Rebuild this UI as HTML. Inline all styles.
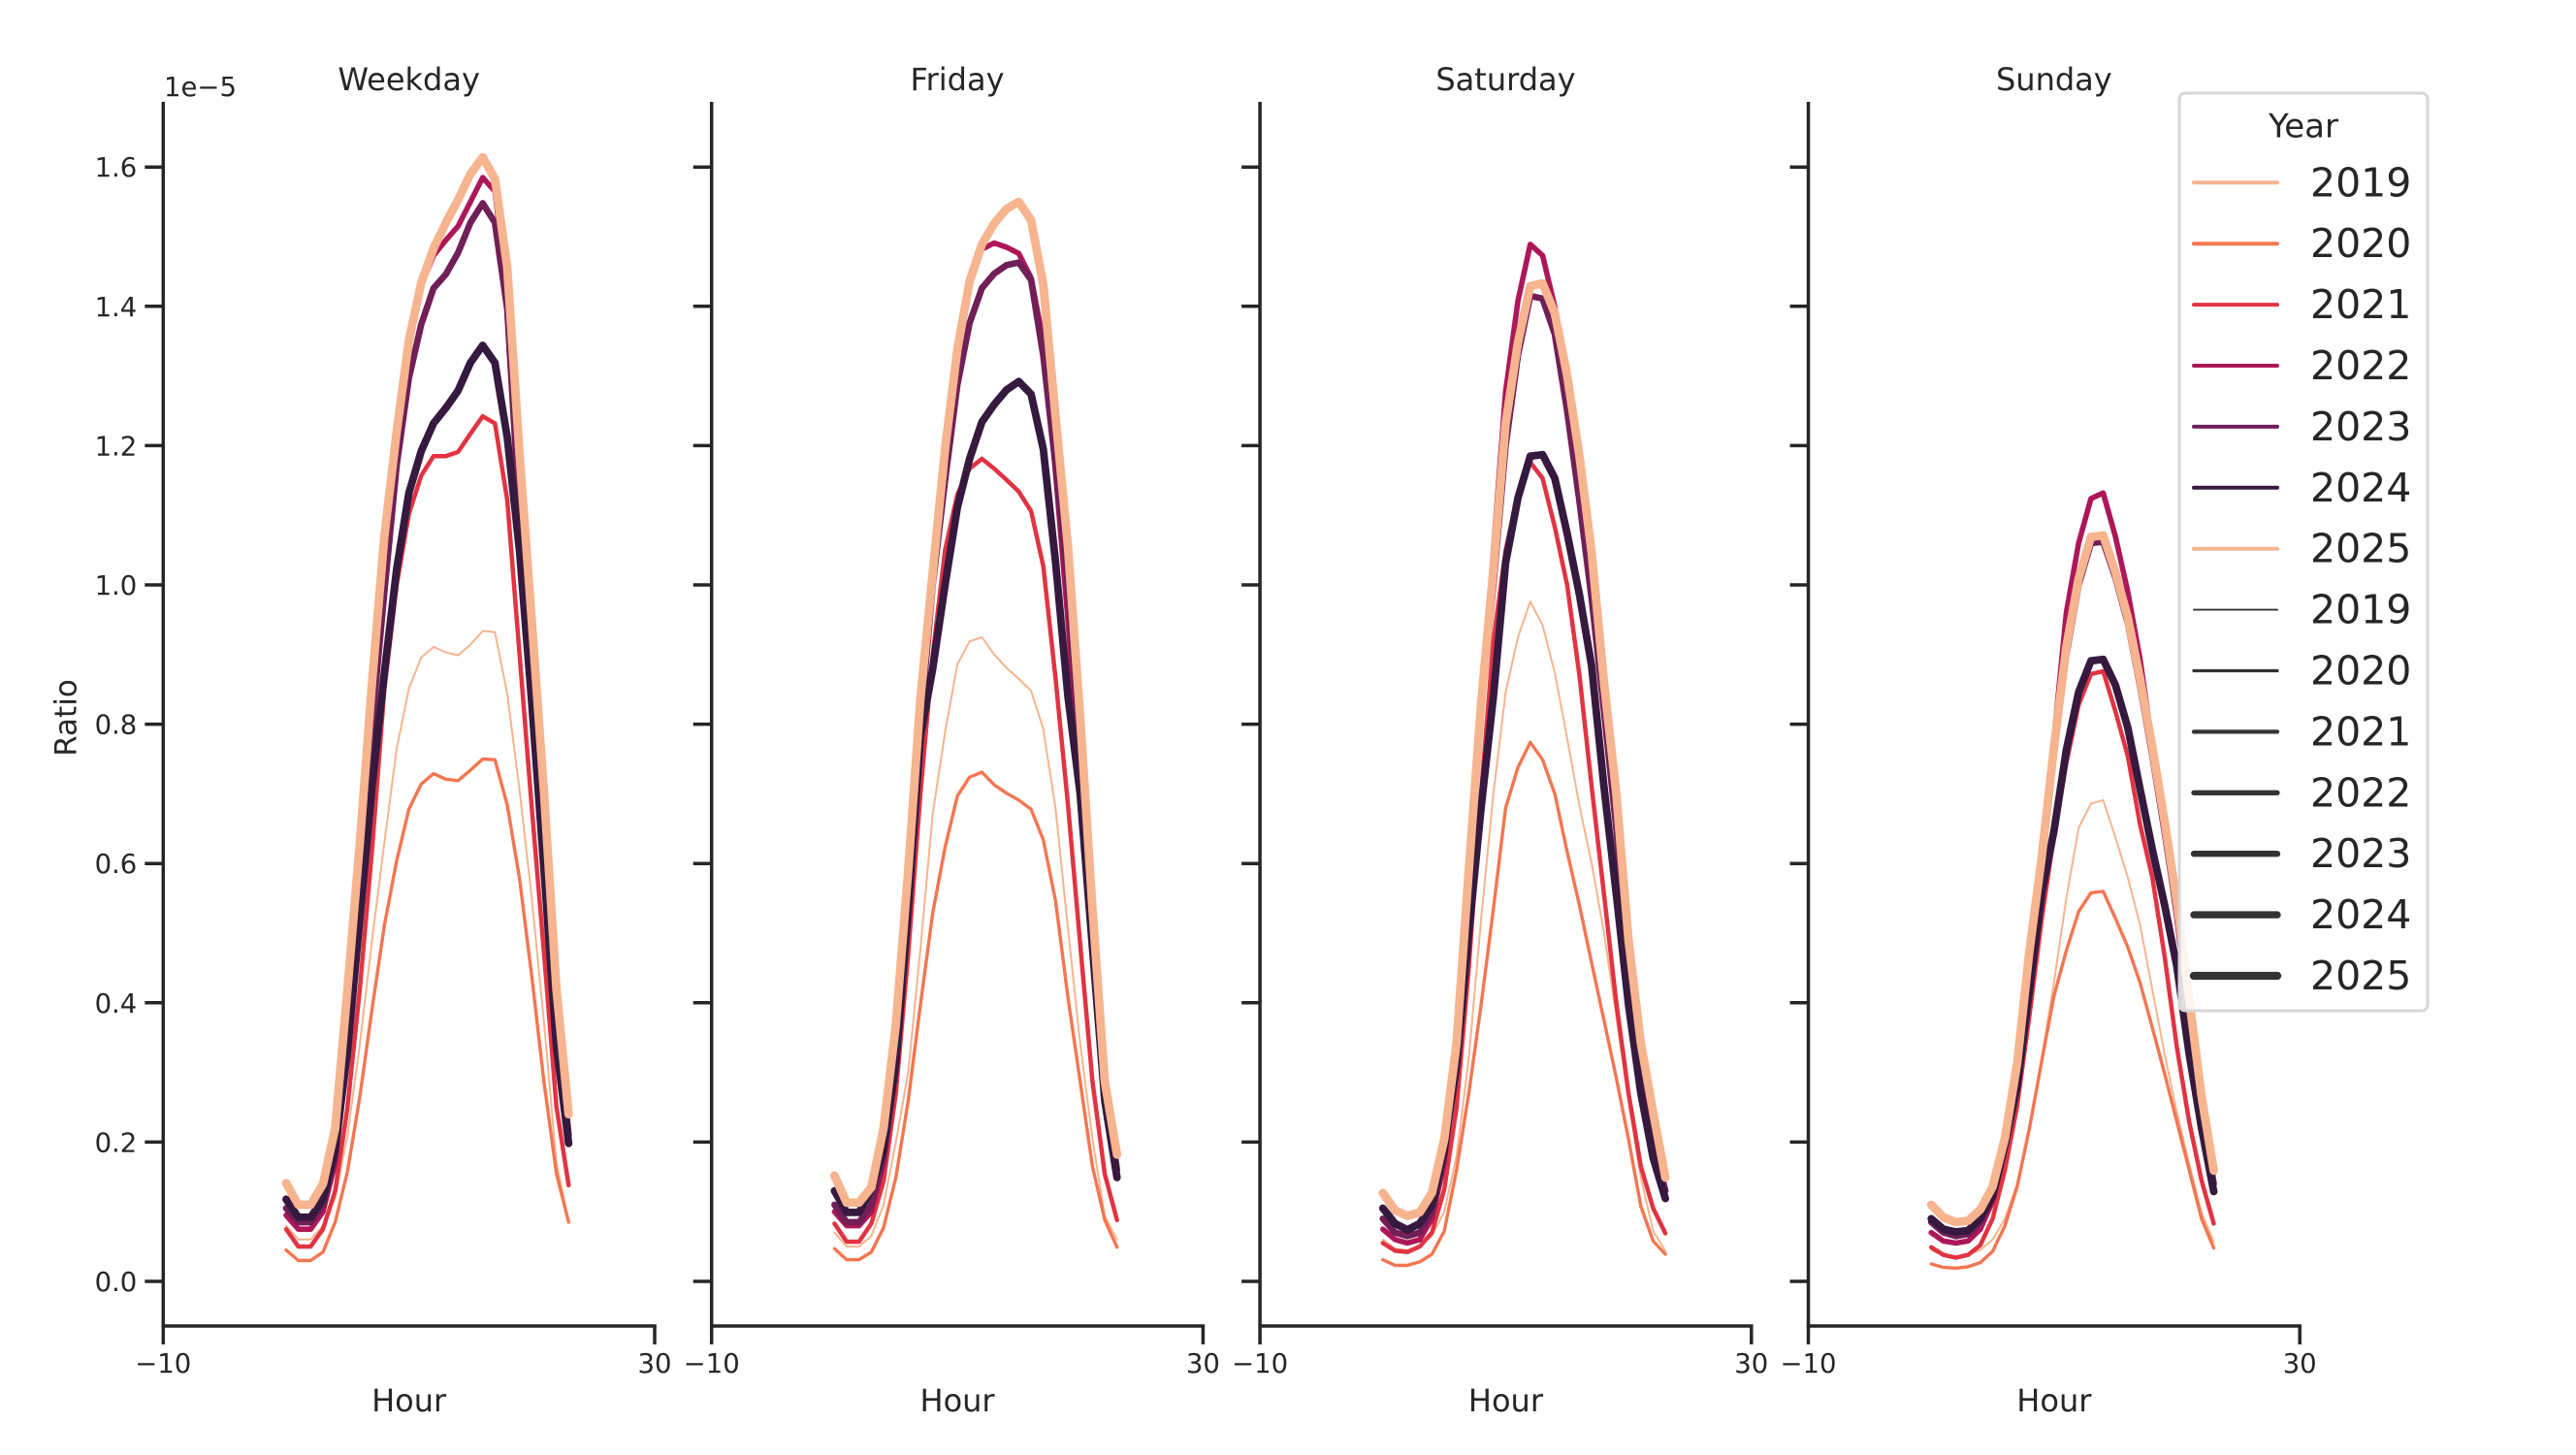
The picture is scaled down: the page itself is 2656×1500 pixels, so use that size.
<!DOCTYPE html>
<html><head><meta charset="utf-8"><title>Ratio by Hour</title>
<style>
html,body{margin:0;padding:0;background:#fff;}
svg{display:block;font-family:"DejaVu Sans","Liberation Sans",sans-serif;}
</style></head>
<body>
<svg id="chart" width="2656" height="1500" viewBox="0 0 2656 1500" xmlns="http://www.w3.org/2000/svg">
<rect x="0" y="0" width="2656" height="1500" fill="#ffffff"/>
<g id="panels"></g>
<text x="70" y="740" font-size="31" fill="#262626" text-anchor="middle" dominant-baseline="middle" transform="rotate(-90 70 740)">Ratio</text>
<text x="169" y="99" font-size="27.5" fill="#262626">1e−5</text>
<g id="legend"></g>
</svg>
<script>
const panelTitles = ["Weekday","Friday","Saturday","Sunday"];
const years = ["2019","2020","2021","2022","2023","2024","2025"];
const hours = [0,1,2,3,4,5,6,7,8,9,10,11,12,13,14,15,16,17,18,19,20,21,22,23];
const yTicks = [0,0.2,0.4,0.6,0.8,1.0,1.2,1.4,1.6];
const yTickLabels = ["0.0","0.2","0.4","0.6","0.8","1.0","1.2","1.4","1.6"];
const xTicks = [-10,30];
const xTickLabels = ["−10","30"];

const weekday2019 = [0.08,0.06,0.06,0.08,0.12,0.21,0.34,0.49,0.63,0.765,0.851,0.896,0.911,0.903,0.899,0.914,0.934,0.932,0.844,0.705,0.55,0.37,0.17,0.085];
const weekday2020 = [0.045,0.030,0.030,0.042,0.085,0.158,0.265,0.391,0.511,0.604,0.678,0.714,0.729,0.721,0.719,0.734,0.750,0.749,0.684,0.578,0.438,0.285,0.155,0.085];
const weekday2021 = [0.075,0.05,0.05,0.075,0.13,0.25,0.42,0.62,0.85,1.0,1.102,1.157,1.185,1.185,1.191,1.217,1.242,1.232,1.122,0.9,0.68,0.47,0.251,0.138];
const weekday2022 = [0.095,0.075,0.075,0.1,0.17,0.33,0.58,0.85,1.08,1.2,1.34,1.43,1.473,1.495,1.515,1.55,1.585,1.565,1.42,1.12,0.85,0.6,0.38,0.21];
const weekday2023 = [0.105,0.085,0.085,0.11,0.18,0.35,0.58,0.8,0.99,1.172,1.297,1.374,1.426,1.446,1.477,1.52,1.548,1.52,1.396,1.1,0.85,0.6,0.38,0.21];
const weekday2024 = [0.118,0.092,0.092,0.118,0.19,0.33,0.52,0.71,0.874,1.023,1.132,1.192,1.232,1.254,1.279,1.319,1.344,1.319,1.212,1.048,0.83,0.589,0.338,0.198];
const weekday2025 = [0.141,0.11,0.11,0.14,0.22,0.42,0.63,0.86,1.07,1.22,1.351,1.434,1.483,1.52,1.553,1.59,1.614,1.583,1.456,1.187,0.948,0.70,0.42,0.24];

const friday2019 = [0.07,0.05,0.05,0.065,0.11,0.2,0.3,0.477,0.672,0.788,0.886,0.919,0.925,0.90,0.881,0.865,0.848,0.793,0.678,0.507,0.342,0.204,0.094,0.06];
const friday2020 = [0.047,0.031,0.031,0.042,0.077,0.149,0.259,0.397,0.529,0.623,0.697,0.724,0.731,0.713,0.701,0.691,0.678,0.634,0.546,0.408,0.287,0.165,0.088,0.049];
const friday2021 = [0.083,0.057,0.057,0.083,0.144,0.27,0.47,0.70,0.90,1.05,1.13,1.167,1.181,1.167,1.151,1.134,1.106,1.027,0.865,0.685,0.485,0.287,0.154,0.088];
const friday2022 = [0.1,0.08,0.08,0.1,0.17,0.3,0.52,0.8,1.0,1.2,1.34,1.43,1.482,1.491,1.485,1.476,1.441,1.35,1.16,0.95,0.72,0.47,0.27,0.15];
const friday2023 = [0.11,0.085,0.085,0.11,0.18,0.32,0.54,0.8,1.0,1.15,1.287,1.376,1.426,1.447,1.459,1.463,1.438,1.329,1.171,1.0,0.75,0.5,0.28,0.16];
const friday2024 = [0.130,0.099,0.099,0.132,0.19,0.314,0.535,0.782,0.88,1.0,1.111,1.181,1.234,1.259,1.28,1.292,1.274,1.195,1.032,0.84,0.70,0.479,0.259,0.149];
const friday2025 = [0.152,0.113,0.113,0.135,0.22,0.369,0.59,0.837,1.018,1.195,1.338,1.436,1.489,1.519,1.54,1.55,1.524,1.431,1.241,1.055,0.81,0.535,0.287,0.182];

const saturday2019 = [0.06,0.047,0.045,0.05,0.065,0.1,0.18,0.32,0.52,0.7,0.846,0.925,0.976,0.942,0.874,0.78,0.683,0.6,0.501,0.38,0.259,0.149,0.072,0.044];
const saturday2020 = [0.031,0.023,0.023,0.028,0.039,0.072,0.16,0.27,0.397,0.535,0.68,0.738,0.774,0.749,0.70,0.617,0.54,0.457,0.375,0.292,0.204,0.108,0.058,0.039];
const saturday2021 = [0.055,0.044,0.042,0.05,0.07,0.132,0.25,0.45,0.7,0.92,1.05,1.13,1.176,1.153,1.083,1.0,0.87,0.71,0.556,0.4,0.27,0.165,0.105,0.069];
const saturday2022 = [0.075,0.06,0.055,0.06,0.09,0.17,0.32,0.57,0.82,1.05,1.278,1.408,1.489,1.473,1.399,1.28,1.15,1.0,0.82,0.65,0.45,0.3,0.2,0.12];
const saturday2023 = [0.09,0.07,0.065,0.07,0.1,0.18,0.33,0.58,0.82,1.0,1.2,1.33,1.415,1.411,1.36,1.25,1.12,0.98,0.82,0.65,0.46,0.31,0.2,0.13];
const saturday2024 = [0.105,0.083,0.074,0.083,0.11,0.19,0.31,0.5,0.68,0.84,1.032,1.125,1.185,1.187,1.153,1.074,0.986,0.883,0.71,0.556,0.397,0.27,0.177,0.119];
const saturday2025 = [0.127,0.102,0.094,0.099,0.127,0.204,0.342,0.59,0.83,1.023,1.232,1.348,1.429,1.433,1.39,1.301,1.185,1.046,0.86,0.70,0.49,0.342,0.243,0.149];

const sunday2019 = [0.045,0.037,0.035,0.038,0.045,0.06,0.09,0.14,0.22,0.32,0.43,0.55,0.651,0.686,0.691,0.637,0.58,0.512,0.419,0.326,0.243,0.168,0.099,0.057];
const sunday2020 = [0.025,0.02,0.019,0.021,0.027,0.043,0.08,0.136,0.22,0.317,0.41,0.475,0.531,0.558,0.56,0.521,0.48,0.429,0.364,0.298,0.229,0.16,0.09,0.048];
const sunday2021 = [0.049,0.038,0.034,0.038,0.052,0.09,0.16,0.252,0.382,0.521,0.64,0.744,0.828,0.872,0.876,0.818,0.754,0.656,0.58,0.466,0.336,0.229,0.145,0.083];
const sunday2022 = [0.07,0.058,0.055,0.058,0.075,0.115,0.19,0.3,0.45,0.6,0.78,0.96,1.06,1.124,1.132,1.069,0.99,0.893,0.77,0.65,0.52,0.38,0.24,0.13];
const sunday2023 = [0.085,0.07,0.065,0.068,0.085,0.125,0.2,0.31,0.46,0.6,0.76,0.9,1.0,1.06,1.062,1.01,0.945,0.855,0.755,0.645,0.53,0.39,0.25,0.14];
const sunday2024 = [0.09,0.075,0.071,0.073,0.09,0.122,0.196,0.28,0.419,0.558,0.647,0.763,0.846,0.891,0.893,0.856,0.795,0.707,0.62,0.54,0.452,0.326,0.22,0.129];
const sunday2025 = [0.11,0.092,0.085,0.087,0.103,0.136,0.206,0.313,0.475,0.61,0.767,0.911,1.009,1.069,1.071,1.018,0.953,0.865,0.767,0.66,0.545,0.405,0.266,0.159];

const panelSeries = [
  [weekday2019,weekday2020,weekday2021,weekday2022,weekday2023,weekday2024,weekday2025],
  [friday2019,friday2020,friday2021,friday2022,friday2023,friday2024,friday2025],
  [saturday2019,saturday2020,saturday2021,saturday2022,saturday2023,saturday2024,saturday2025],
  [sunday2019,sunday2020,sunday2021,sunday2022,sunday2023,sunday2024,sunday2025]
];

const colors = ["#f6b48f","#f37651","#e13342","#ad1759","#701f57","#35193e","#f6b48f"];
const widths = [2.0,3.4,4.5,5.6,6.7,7.8,8.8];
const NS = "http://www.w3.org/2000/svg";
const P_LEFT0 = 168.3, P_PITCH = 565.4, P_W = 506.7, Y_TOP = 105, X_AXIS_Y = 1367;
const xMin = -10, xMax = 30;
function xScale(p, h){ return P_LEFT0 + p*P_PITCH + (h - xMin)/(xMax - xMin)*P_W; }
function yScale(v){ return 1321 - v*718; }
function mk(tag, attrs, parent){ const e=document.createElementNS(NS,tag); for(const k in attrs) e.setAttribute(k,attrs[k]); parent.appendChild(e); return e; }

const panelsG = document.getElementById('panels');
panelTitles.forEach((title,p)=>{
  const g = mk('g',{},panelsG);
  
  
  const left = P_LEFT0 + p*P_PITCH;
  const t = mk('text',{x:left+P_W/2,y:93,'font-size':32,fill:'#262626','text-anchor':'middle'},g);
  t.textContent = title;
  
  
  // series
  panelSeries[p].forEach((vals,i)=>{
    let d='';
    hours.forEach((h,k)=>{ d += (k?'L':'M') + xScale(p,h).toFixed(1) + ' ' + yScale(vals[k]).toFixed(1); });
    const path = mk('path',{d:d,fill:'none',stroke:colors[i],'stroke-width':widths[i],'stroke-linejoin':'round','stroke-linecap':'round'},g);
    
    
  });
  // spines
  const ys = mk('line',{x1:left,y1:Y_TOP,x2:left,y2:X_AXIS_Y,stroke:'#262626','stroke-width':3.5},g);
  
  
  const xs = mk('line',{x1:left-1.75,y1:X_AXIS_Y,x2:xScale(p,xMax)+1.75,y2:X_AXIS_Y,stroke:'#262626','stroke-width':3.5},g);
  
  
  yTicks.forEach((v,k)=>{
    const tk = mk('line',{x1:left-19,y1:yScale(v),x2:left,y2:yScale(v),stroke:'#262626','stroke-width':3.5},g);
    
    
    if(p===0){
      const lb = mk('text',{x:left-27,y:yScale(v)+10,'font-size':27.5,fill:'#262626','text-anchor':'end'},g);
      lb.textContent = yTickLabels[k];
      
      
    }
  });
  xTicks.forEach((v,k)=>{
    const x = xScale(p,v);
    const tk = mk('line',{x1:x,y1:X_AXIS_Y,x2:x,y2:X_AXIS_Y+19,stroke:'#262626','stroke-width':3.5},g);
    
    
    const lb = mk('text',{x:x,y:1415,'font-size':27.5,fill:'#262626','text-anchor':'middle'},g);
    lb.textContent = xTickLabels[k];
    
    
  });
  const xl = mk('text',{x:left+P_W/2,y:1455,'font-size':32,fill:'#262626','text-anchor':'middle'},g);
  xl.textContent = 'Hour';
  
  
});

// legend
const lg = document.getElementById('legend');
const box = mk('rect',{x:2247,y:96,width:256,height:946,rx:6,ry:6,fill:'#ffffff','fill-opacity':0.85,stroke:'#d6d6d6','stroke-width':3},lg);


const lt = mk('text',{x:2375,y:141.7,'font-size':34,fill:'#262626','text-anchor':'middle'},lg);
lt.textContent = 'Year';


for(let r=0;r<14;r++){
  const i = r%7;
  const yy = 188.3 + 62.9*r;
  const eg = mk('g',{},lg);
  
  
  const col = r<7 ? colors[i] : '#333333';
  const w = r<7 ? 4 : widths[i]*0.95;
  mk('line',{x1:2262,y1:yy,x2:2348,y2:yy,stroke:col,'stroke-width':w,'stroke-linecap':'round'},eg);
  const tx = mk('text',{x:2382,y:yy+14,'font-size':41,fill:'#262626'},eg);
  tx.textContent = years[i];
}
</script>
</body></html>
